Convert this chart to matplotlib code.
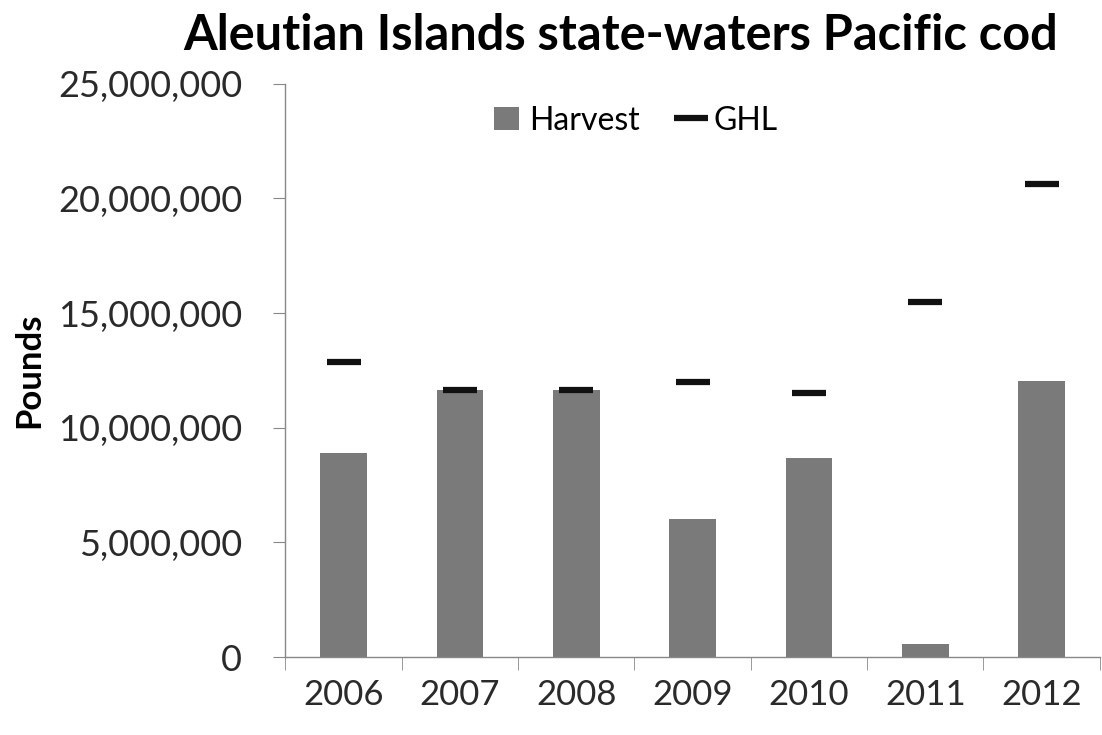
import matplotlib
matplotlib.use("Agg")
import matplotlib.pyplot as plt
from matplotlib.ticker import FuncFormatter
import numpy as np

# data
years = ["2006", "2007", "2008", "2009", "2010", "2011", "2012"]
harvest = [8.9e6, 11.65e6, 11.65e6, 6.0e6, 8.7e6, 0.57e6, 12.05e6]
ghl = [12.85e6, 11.65e6, 11.65e6, 12.0e6, 11.5e6, 15.5e6, 20.65e6]

plt.rcParams['font.family'] = ['Lato', 'DejaVu Sans']

fig = plt.figure(figsize=(11.02, 7.35), dpi=100)
ax = fig.add_axes([0.259, 0.106, 0.739, 0.780])

x = np.arange(len(years))
ax.bar(x, harvest, width=0.4, color='#7a7a7a', label='Harvest', zorder=2)
ax.plot(x, ghl, linestyle='none', marker='_', markersize=24, markeredgewidth=4.5,
        color='#111111', label='GHL', zorder=3)

ax.set_ylim(0, 25e6)
ax.set_xlim(-0.5, len(years) - 0.5)
ax.set_yticks(np.arange(0, 25e6 + 1, 5e6))
ax.yaxis.set_major_formatter(FuncFormatter(lambda v, p: f"{int(v):,}"))
ax.set_xticks(x)
ax.set_xticklabels(years)
ax.set_xticks(np.arange(-0.5, len(years) - 0.4, 1), minor=True)

for s in ['top', 'right']:
    ax.spines[s].set_visible(False)
for s in ['left', 'bottom']:
    ax.spines[s].set_color('#888888')
    ax.spines[s].set_linewidth(1)

ax.tick_params(axis='y', length=9, color='#888888', labelsize=26, labelcolor='#2a2a2a', pad=22)
ax.tick_params(axis='x', which='major', length=0, labelsize=25, labelcolor='#2a2a2a', pad=16)
ax.tick_params(axis='x', which='minor', length=9, color='#888888')

ax.set_ylabel('Pounds', fontsize=25, fontweight='bold')
ax.yaxis.set_label_coords(-0.295, 0.5)

fig.suptitle('Aleutian Islands state-waters Pacific cod', fontsize=35, fontweight='bold',
             x=0.563, y=0.982)

h, l = ax.get_legend_handles_labels()
order = [l.index('Harvest'), l.index('GHL')]
ax.legend([h[i] for i in order], [l[i] for i in order], loc='upper center',
          bbox_to_anchor=(0.43, 1.012), ncol=2, frameon=False,
          fontsize=23, handlelength=0.8, handletextpad=0.3, columnspacing=1.2)

fig.savefig('out.png', dpi=100)
